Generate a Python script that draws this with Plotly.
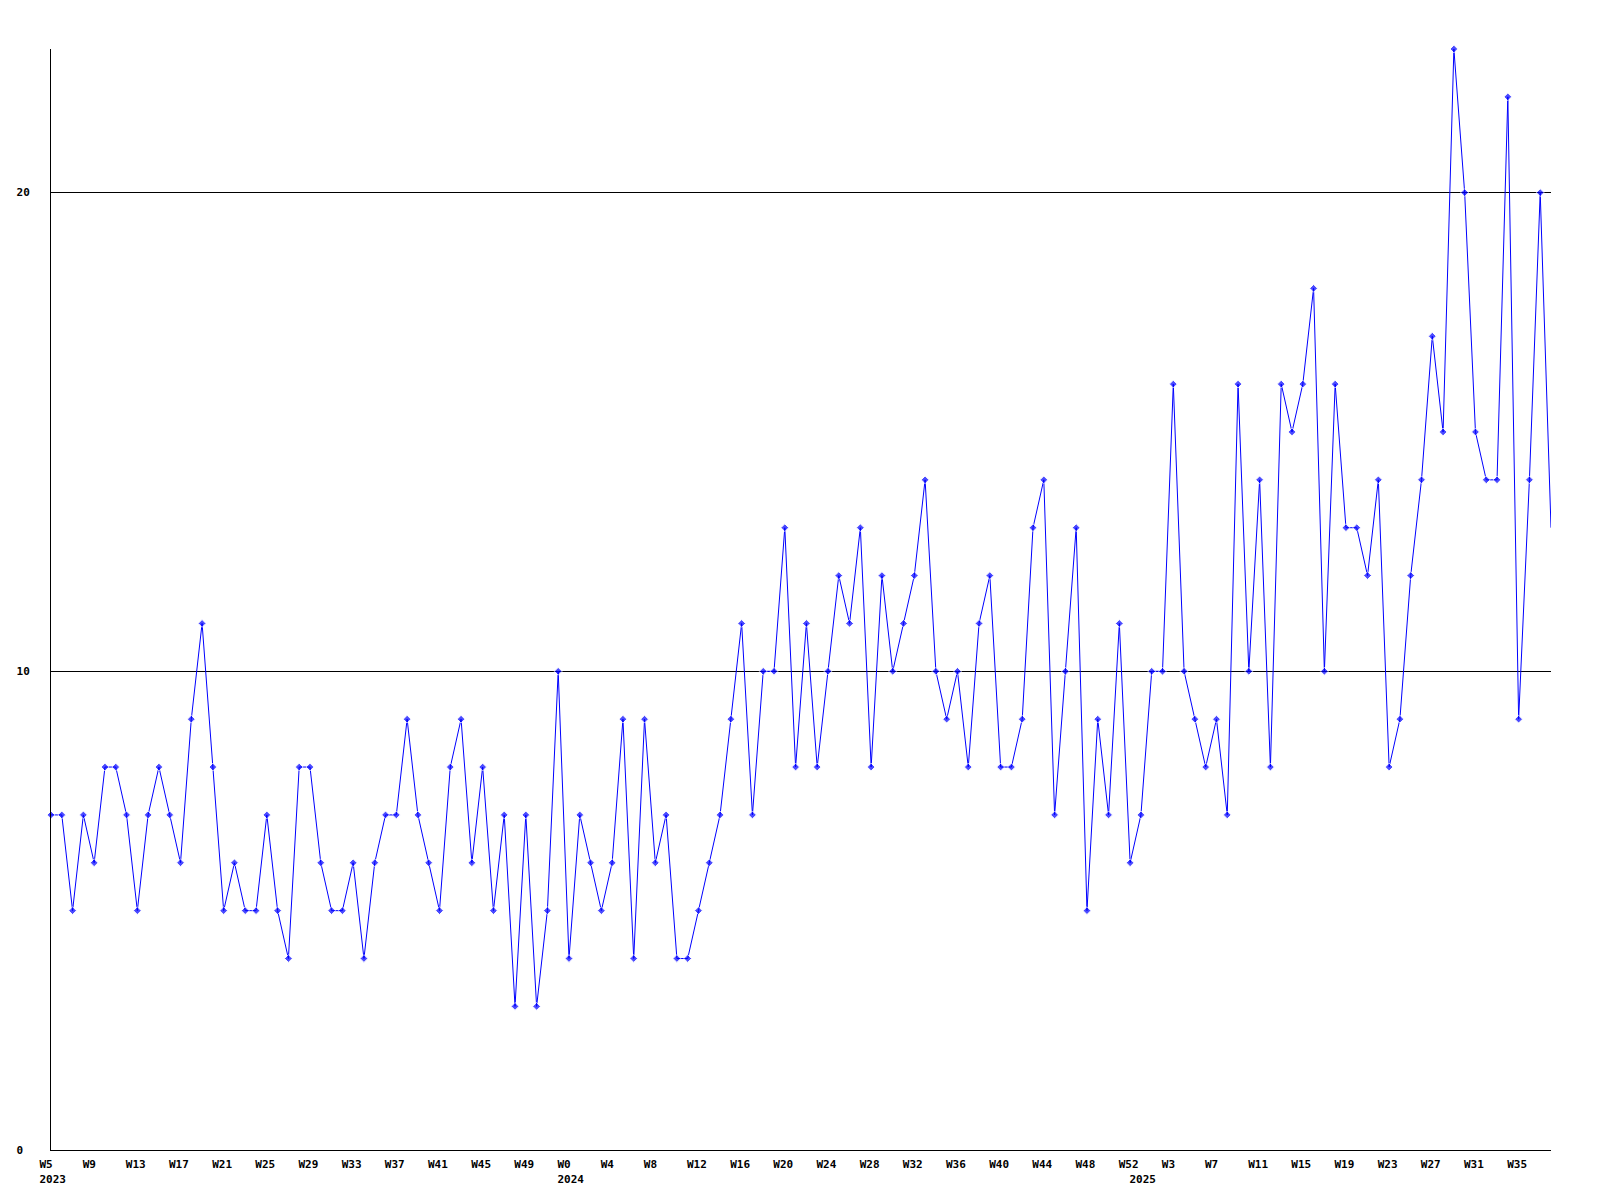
import plotly.graph_objects as go

# Weekly values per year
values_2023 = [7, 7, 5, 7, 6, 8, 8, 7, 5, 7, 8, 7, 6, 9, 11, 8, 5, 6, 5, 5,
               7, 5, 4, 8, 8, 6, 5, 5, 6, 4, 6, 7, 7, 9, 7, 6, 5, 8, 9, 6,
               8, 5, 7, 3, 7, 3, 5, 10]
values_2024 = [4, 7, 6, 5, 6, 9, 4, 9, 6, 7, 4, 4, 5, 6, 7, 9, 11, 7, 10, 10,
               13, 8, 11, 8, 10, 12, 11, 13, 8, 12, 10, 11, 12, 14, 10, 9, 10, 8, 11, 12,
               8, 8, 9, 13, 14, 7, 10, 13, 5, 9, 7, 11, 6]
values_2025 = [7, 10, 10, 16, 10, 9, 8, 9, 7, 16, 10, 14, 8, 16, 15, 16, 18, 10, 16,
               13, 13, 12, 14, 8, 9, 12, 14, 17, 15, 23, 20, 15, 14, 14, 22, 9, 14, 20, 13]

years = [2023, 2024, 2025]
first_week = [5, 0, 0]
series = [values_2023, values_2024, values_2025]

categories = []
week_labels = []
year_of = []
values = []
for yr, fw, vals in zip(years, first_week, series):
    for k, v in enumerate(vals):
        wk = fw + k
        categories.append(f"{yr}-W{wk}")
        week_labels.append(f"W{wk}")
        year_of.append(yr)
        values.append(v)

n = len(values)

# x ticks every 4 weeks, plus year labels at the first week of each year
tickvals, ticktext = [], []
for i in range(n):
    is_first = i == 0 or year_of[i] != year_of[i - 1]
    lab = week_labels[i] if i % 4 == 0 else ""
    if is_first:
        lab = lab + "<br>" + str(year_of[i])
    if lab:
        tickvals.append(categories[i])
        ticktext.append(lab)

y_ticks = [0, 10, 20]
y_ticktext = [str(t).ljust(2, "\u00a0") for t in y_ticks]

marker_sizes = [6] * (n - 1) + [0]

fig = go.Figure()
fig.add_trace(go.Scatter(
    x=categories, y=values, mode="lines+markers",
    line=dict(color="#0000ff", width=1),
    marker=dict(symbol="diamond", size=marker_sizes, color="#0000ff"),
    cliponaxis=False, hoverinfo="x+y", showlegend=False,
))

font = dict(family="DejaVu Sans Mono", size=11, color="#000000", weight="bold")

fig.update_layout(
    width=1600, height=1200,
    margin=dict(l=51, r=49, t=49, b=50, pad=0),
    paper_bgcolor="#ffffff", plot_bgcolor="#ffffff",
    font=font,
    xaxis=dict(
        type="category", range=[0, n - 1],
        tickvals=tickvals, ticktext=ticktext, tickangle=0,
        tickfont=font, ticks="", showgrid=False, zeroline=False,
        showline=True, linecolor="#000000", linewidth=1,
        ticklabelposition="outside right", ticklabelshift=-12,
        ticklabelstandoff=4,
    ),
    yaxis=dict(
        range=[0, 23], tickvals=y_ticks, ticktext=y_ticktext,
        tickfont=font, ticks="", showgrid=True, gridcolor="#000000", gridwidth=1,
        zeroline=False, showline=True, linecolor="#000000", linewidth=1,
        ticklabelstandoff=18,
    ),
)

fig.write_html("out.html", config={"displayModeBar": False},
               post_script="document.body.style.margin='0';")
